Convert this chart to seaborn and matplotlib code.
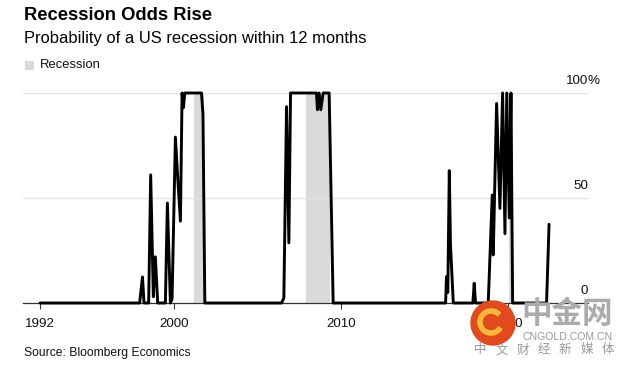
import matplotlib
matplotlib.use("Agg")
import matplotlib.pyplot as plt
import matplotlib.transforms as mtransforms
from matplotlib.patches import Rectangle, Circle, Arc
import seaborn as sns
import pandas as pd

# ---- data ----
years = [1992.0, 1997.96, 1998.13, 1998.22, 1998.5, 1998.62, 1998.78, 1998.9, 1999.04,
         1999.5, 1999.62, 1999.8, 1999.9, 2000.1, 2000.25, 2000.4, 2000.5, 2000.58,
         2000.66, 2001.66, 2001.75, 2001.86, 2006.45, 2006.59, 2006.75, 2006.89,
         2006.99, 2008.54, 2008.6, 2008.7, 2008.8, 2008.94, 2009.3, 2009.54, 2016.27,
         2016.32, 2016.4, 2016.49, 2016.56, 2016.73, 2017.9, 2017.98, 2018.06, 2018.82,
         2019.06, 2019.12, 2019.32, 2019.52, 2019.68, 2019.82, 2019.93, 2020.08,
         2020.18, 2020.28, 2022.31, 2022.46]
probability = [0, 0, 12.4, 0, 0, 61, 3, 22, 0,
               0, 47.6, 0, 2, 79, 58, 39, 100, 93,
               100, 100, 90, 0, 0, 2.4, 93.5, 28.6,
               100, 100, 92, 100, 92, 100, 100, 0, 0,
               12.5, 5, 63, 27.6, 0, 0, 9.4, 0, 0,
               51.4, 22.9, 95, 45, 100, 33, 100, 40.5,
               100, 0, 0, 37.5]
recession_start = [2001.2, 2007.92, 2020.08]
recession_end = [2001.8, 2009.35, 2020.33]
x_ticks = [1992, 2000, 2010, 2020]
x_tick_labels = ["1992", "2000", "2010", "2020"]
y_ticks = [0, 50, 100]
y_tick_labels = ["0", "50", "100"]
watermark_chars = ["中", "文", "财", "经", "新", "媒", "体"]

df = pd.DataFrame({"year": years, "prob": probability})

sns.set_theme(style="white")
plt.rcParams["font.family"] = ["Liberation Sans", "DejaVu Sans"]

W, H = 627, 369
fig = plt.figure(figsize=(W / 100, H / 100), dpi=100)
ax = fig.add_axes([23 / W, (H - 303) / H, (588 - 23) / W, (303 - 93) / H])

REC_COLOR = "#dadada"
for s, e in zip(recession_start, recession_end):
    ax.axvspan(s, e, color=REC_COLOR, lw=0, zorder=0)

for yv in [50, 100]:
    ax.axhline(yv, color="#e3e3e3", lw=1.0, zorder=1)

sns.lineplot(data=df, x="year", y="prob", ax=ax, color="black", linewidth=2.1,
             sort=False, zorder=3, clip_on=False)

ax.set_xlim(1990.98, 2024.79)
ax.set_ylim(0, 100)
for sp in ["top", "right", "left"]:
    ax.spines[sp].set_visible(False)
ax.spines["bottom"].set_color("#333333")
ax.spines["bottom"].set_linewidth(0.9)
ax.spines["bottom"].set_zorder(2)

ax.set_xticks(x_ticks)
ax.set_xticklabels(x_tick_labels)
ax.tick_params(axis="x", direction="out", length=4, width=0.8, color="#333333",
               labelsize=9.6, pad=6.5, labelcolor="#111111", bottom=True)
ax.set_yticks([])
ax.set_xlabel("")
ax.set_ylabel("")

# right-side y labels placed above gridlines
for yv, lab in zip(y_ticks, y_tick_labels):
    tr = mtransforms.offset_copy(ax.get_yaxis_transform(), fig=fig, x=0, y=8.6, units="points")
    ax.text(1.0, yv, lab, transform=tr, ha="right", va="center", fontsize=9.6, color="#111111")
tr = mtransforms.offset_copy(ax.get_yaxis_transform(), fig=fig, x=0, y=8.6, units="points")
ax.text(1.0, 100, "%", transform=tr, ha="left", va="center", fontsize=9.6, color="#111111")

# titles
fig.text(24 / W, 1 - 15 / H, "Recession Odds Rise", fontsize=13.2, fontweight="bold",
         ha="left", va="center", color="black")
fig.text(24 / W, 1 - 38.5 / H, "Probability of a US recession within 12 months", fontsize=11.9,
         ha="left", va="center", color="black")
fig.patches.append(Rectangle((25 / W, 1 - 70 / H), 9 / W, 9 / H, transform=fig.transFigure,
                             color=REC_COLOR, lw=0))
fig.text(40 / W, 1 - 65 / H, "Recession", fontsize=9.4, ha="left", va="center", color="#111111")
fig.text(24 / W, 1 - 353 / H, "Source: Bloomberg Economics", fontsize=8.7, ha="left",
         va="center", color="#111111")

# watermark
circ = Circle((493, H - 323), 22, transform=None, color="#e2491d", zorder=10)
fig.patches.append(circ)
arc = Arc((491, H - 322), 22, 22, theta1=40, theta2=330, transform=None, color="#f6b93b",
          lw=4, zorder=11)
fig.patches.append(arc)
fig.text(567 / W, 1 - 314 / H, "中金网", fontsize=22, fontweight="bold", color="#ababab",
         family=["Noto Sans CJK SC"], ha="center", va="center", zorder=12)
fig.text(567.5 / W, 1 - 337 / H, "CNGOLD.COM.CN", fontsize=7.6, color="#9a9a9a",
         ha="center", va="center", zorder=12)
for i, ch in enumerate(watermark_chars):
    fig.text((480 + i * 21.3) / W, 1 - 350 / H, ch, fontsize=9, color="#9a9a9a",
             family=["Noto Sans CJK SC"], ha="center", va="center", zorder=12)

fig.savefig("out.png", dpi=100)
